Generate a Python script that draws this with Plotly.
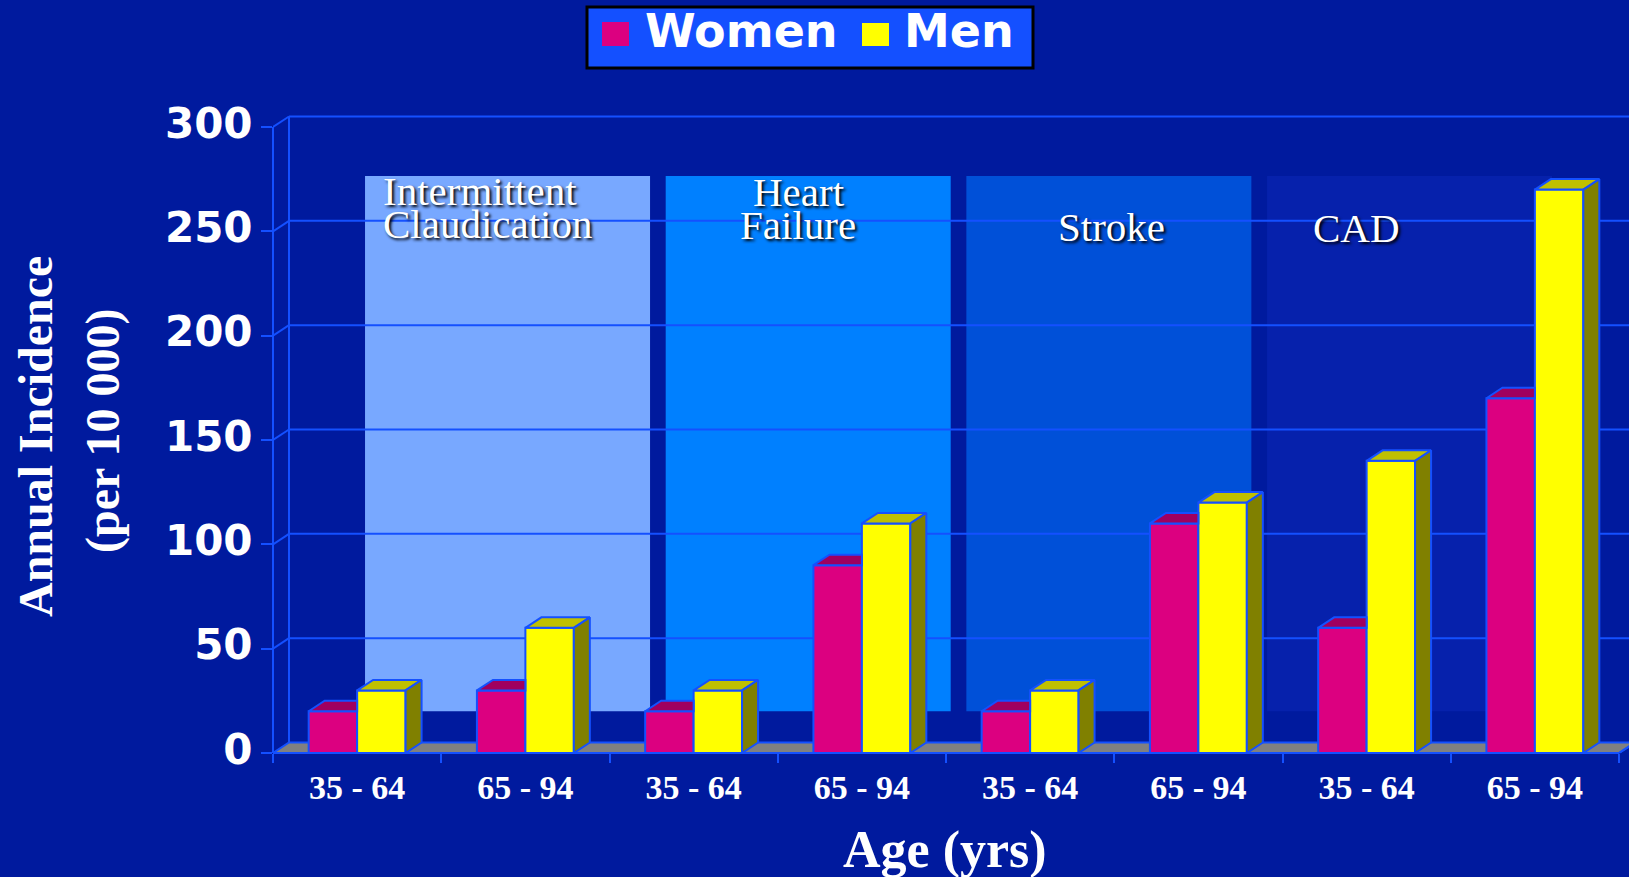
import plotly.graph_objects as go

# ---------------- data ----------------
groups = ["Intermittent Claudication", "Heart Failure", "Stroke", "CAD"]
age_bands = ["35 - 64", "65 - 94", "35 - 64", "65 - 94",
             "35 - 64", "65 - 94", "35 - 64", "65 - 94"]
women = [20, 30, 20, 90, 20, 110, 60, 170]
men = [30, 60, 30, 110, 30, 120, 140, 270]
y_ticks = [0, 50, 100, 150, 200, 250, 300]

# ---------------- style ----------------
BG = "#001A9E"
EDGE = "#1450FF"
PINK, PINK_TOP = "#DC0080", "#A0005F"
YEL, YEL_TOP, YEL_SIDE = "#FFFF00", "#C0C000", "#808000"
FLOOR = "#808080"
PANEL_COLORS = ["#78A8FF", "#0080FF", "#0050D8", "#0621AC"]
SERIF = "Liberation Serif, Times New Roman, serif"
SANS = "DejaVu Sans, Arial, sans-serif"

W, H = 1629, 877
L, R, T, B = 273, 0, 105, 124
plot_w = W - L - R
plot_h = H - T - B
PX_X = 168.25
PX_Y = 2.0867
x_range = [-0.5, -0.5 + plot_w / PX_X]
y_range = [0, plot_h / PX_Y]
DX = 16 / PX_X
DY = 10.5 / PX_Y
BW = 0.288


def px(xp):
    return (xp - L) / plot_w


def py(yp):
    return (H - B - yp) / plot_h


xs = list(range(len(age_bands)))
fig = go.Figure()

fig.add_trace(go.Bar(x=xs, y=women, width=BW, offset=-BW, name="Women",
                     marker=dict(color=PINK, line=dict(color=EDGE, width=2)),
                     showlegend=False))
fig.add_trace(go.Bar(x=xs, y=men, width=BW, offset=0, name="Men",
                     marker=dict(color=YEL, line=dict(color=EDGE, width=2)),
                     showlegend=False))


def faces(vals, x0off, kind):
    fx, fy = [], []
    for i, v in enumerate(vals):
        x0 = i + x0off
        x1 = x0 + BW
        if kind == "top_clipped":
            pts = [(x0, v), (x1, v), (x1, v + DY), (x0 + DX, v + DY)]
        elif kind == "top":
            pts = [(x0, v), (x1, v), (x1 + DX, v + DY), (x0 + DX, v + DY)]
        else:
            pts = [(x1, 0), (x1, v), (x1 + DX, v + DY), (x1 + DX, DY)]
        pts.append(pts[0])
        for a, b in pts:
            fx.append(a)
            fy.append(b)
        fx.append(None)
        fy.append(None)
    return fx, fy


for vals, off, kind, col in [(women, -BW, "top_clipped", PINK_TOP),
                             (men, 0, "top", YEL_TOP),
                             (men, 0, "side", YEL_SIDE)]:
    fx, fy = faces(vals, off, kind)
    fig.add_trace(go.Scatter(x=fx, y=fy, mode="lines", fill="toself",
                             fillcolor=col, line=dict(color=EDGE, width=2),
                             hoverinfo="skip", showlegend=False))

shapes = []
# category panels on the back wall
for k, col in enumerate(PANEL_COLORS):
    x0 = 0.047 + k * 1.787
    shapes.append(dict(type="rect", xref="x", yref="y", x0=x0, x1=x0 + 1.694,
                       y0=20, y1=276.5, fillcolor=col, line=dict(width=0),
                       layer="below"))
# back-wall gridlines with perspective connectors
for v in y_ticks[1:]:
    shapes.append(dict(type="line", xref="x", yref="y", x0=-0.5 + DX, x1=x_range[1],
                       y0=v + DY, y1=v + DY, line=dict(color=EDGE, width=2),
                       layer="below"))
    shapes.append(dict(type="line", xref="x", yref="y", x0=-0.5, x1=-0.5 + DX,
                       y0=v, y1=v + DY, line=dict(color=EDGE, width=2),
                       layer="below"))
# back wall left edge
shapes.append(dict(type="line", xref="x", yref="y", x0=-0.5 + DX, x1=-0.5 + DX,
                   y0=DY, y1=y_ticks[-1] + DY, line=dict(color=EDGE, width=2),
                   layer="below"))
# floor
xe = len(xs) - 0.5
shapes.append(dict(type="path", xref="x", yref="y",
                   path=f"M -0.5,0 L {xe},0 L {xe + DX},{DY} L {-0.5 + DX},{DY} Z",
                   fillcolor=FLOOR, line=dict(color=EDGE, width=2), layer="below"))
# front axis lines
span = x_range[1] - x_range[0]
shapes.append(dict(type="line", xref="paper", yref="paper", x0=0, x1=0,
                   y0=0, y1=y_ticks[-1] / y_range[1], line=dict(color=EDGE, width=2)))
shapes.append(dict(type="line", xref="paper", yref="paper", x0=0,
                   x1=(xe + 0.5) / span, y0=0, y1=0, line=dict(color=EDGE, width=2)))
shapes.append(dict(type="line", xref="paper", yref="paper",
                   x0=(xe + 0.5) / span, x1=(xe + 0.5 + DX) / span,
                   y0=0, y1=DY / y_range[1], line=dict(color=EDGE, width=2)))
# legend box and swatches
shapes.append(dict(type="rect", xref="paper", yref="paper", x0=px(587), x1=px(1033),
                   y0=py(68), y1=py(7), fillcolor=EDGE, line=dict(color="black", width=3)))
shapes.append(dict(type="rect", xref="paper", yref="paper", x0=px(602), x1=px(629),
                   y0=py(46), y1=py(22), fillcolor=PINK, line=dict(width=0)))
shapes.append(dict(type="rect", xref="paper", yref="paper", x0=px(862), x1=px(889),
                   y0=py(46), y1=py(23), fillcolor=YEL, line=dict(width=0)))

ann = []
legend_font = dict(family=SANS, size=46, color="white", weight="bold")
ann.append(dict(x=px(643), y=py(31), text="Women", xanchor="left", yanchor="middle",
                font=legend_font))
ann.append(dict(x=px(902), y=py(31), text="Men", xanchor="left", yanchor="middle",
                font=legend_font))

panel_font = dict(family=SERIF, size=41, color="white", shadow="2px 2px 3px #000000")
ann.append(dict(x=px(381), y=py(191), text="Intermittent", xanchor="left",
                yanchor="middle", font=panel_font))
ann.append(dict(x=px(381), y=py(223.5), text="Claudication", xanchor="left",
                yanchor="middle", font=panel_font))
ann.append(dict(x=px(799), y=py(192), text="Heart", xanchor="center",
                yanchor="middle", font=panel_font))
ann.append(dict(x=px(798), y=py(224.5), text="Failure", xanchor="center",
                yanchor="middle", font=panel_font))
ann.append(dict(x=px(1111), y=py(226.5), text="Stroke", xanchor="center",
                yanchor="middle", font=panel_font))
ann.append(dict(x=px(1356), y=py(227.5), text="CAD", xanchor="center",
                yanchor="middle", font=panel_font))

title_font = dict(family=SERIF, size=48, color="white", weight="bold")
ann.append(dict(x=px(35), y=py(437), text="Annual Incidence", textangle=-90,
                xanchor="center", yanchor="middle", font=title_font))
ann.append(dict(x=px(103), y=py(431), text="(per 10 000)", textangle=-90,
                xanchor="center", yanchor="middle", font=title_font))
ann.append(dict(x=px(945), y=py(850), text="Age (yrs)", xanchor="center",
                yanchor="middle", font=dict(family=SERIF, size=52, color="white",
                                            weight="bold")))
for a in ann:
    a.update(xref="paper", yref="paper", showarrow=False)

fig.update_layout(
    width=W, height=H,
    margin=dict(l=L, r=R, t=T, b=B, pad=0),
    paper_bgcolor=BG, plot_bgcolor=BG,
    barmode="overlay",
    showlegend=False,
    shapes=shapes,
    annotations=ann,
    xaxis=dict(range=x_range, tickmode="array", tickvals=xs, ticktext=age_bands,
               ticks="", showgrid=False, zeroline=False, showline=False,
               tickfont=dict(family=SERIF, size=34, color="white", weight="bold"),
               ticklabelstandoff=11,
               minor=dict(tickmode="linear", tick0=-0.5, dtick=1, ticks="outside",
                          ticklen=9, tickwidth=2, tickcolor=EDGE, showgrid=False)),
    yaxis=dict(range=y_range, tickmode="array", tickvals=y_ticks, ticks="outside",
               ticklen=11, tickwidth=2, tickcolor=EDGE, showgrid=False,
               zeroline=False, showline=False, ticklabelstandoff=0,
               ticklabelshift=-4,
               tickfont=dict(family=SANS, size=42, color="white", weight="bold")),
)

fig.write_html("out.html", config={"displayModeBar": False},
               post_script="document.body.style.margin='0';document.body.style.overflow='hidden';")
